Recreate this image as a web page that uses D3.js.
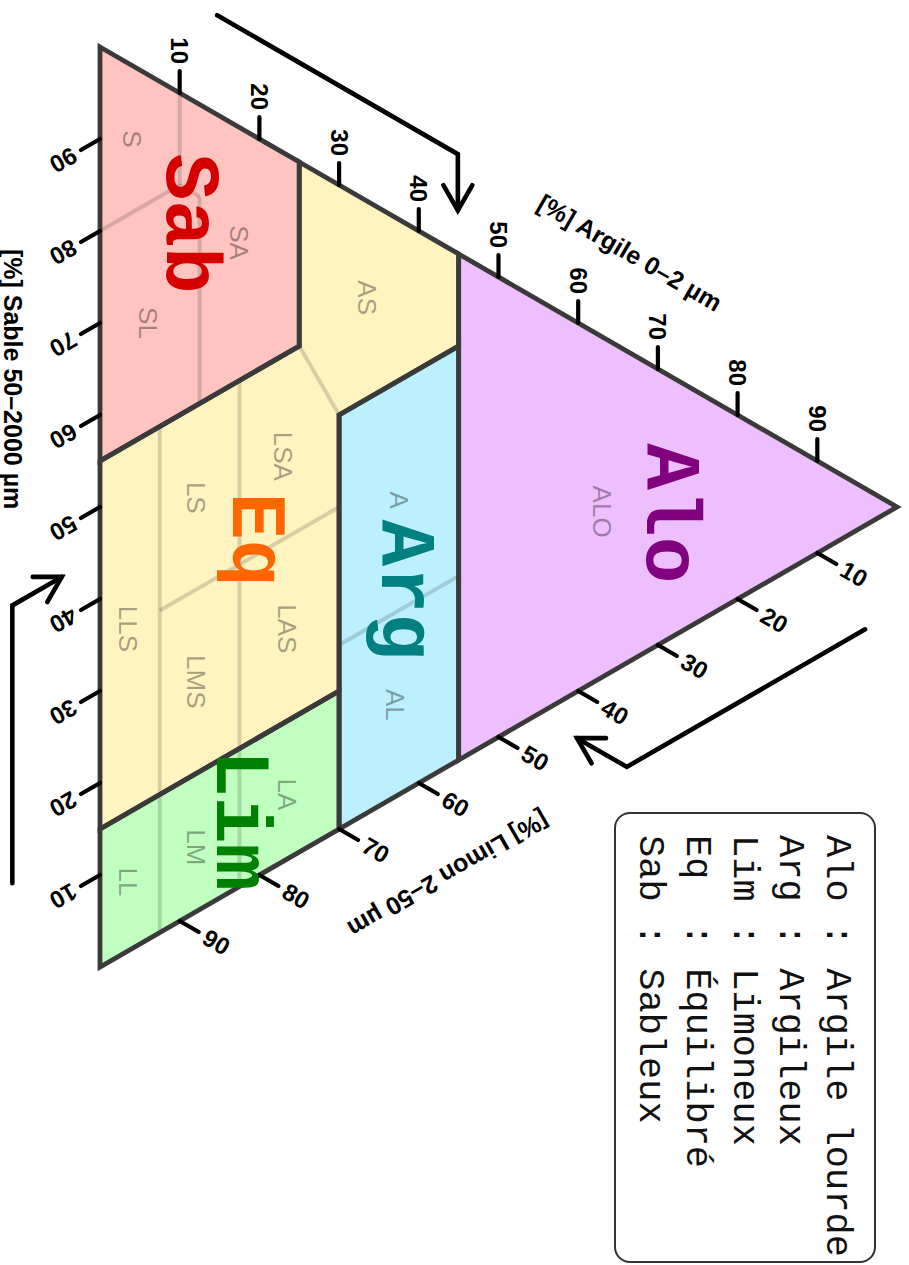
<!DOCTYPE html>
<html>
<head>
<meta charset="utf-8">
<script src="https://cdn.jsdelivr.net/npm/d3@7"></script>
<style>
  html, body { margin: 0; padding: 0; background: #ffffff; }
  svg { display: block; }
</style>
</head>
<body>
<svg id="chart" width="909" height="1265"></svg>
<script>
// ---- DATA (ternary points given as [argile %, sable %]; limon = 100 - argile - sable) ----
const regionNames = ["Sab", "Eq", "Arg", "Lim", "Alo"];
const sabPolygon = [[0, 100], [25, 75], [25, 55], [0, 55]];
const eqPolygon  = [[25, 75], [45, 55], [45, 45], [30, 45], [30, 15], [0, 15], [0, 55], [25, 55]];
const argPolygon = [[30, 45], [45, 45], [45, 0], [30, 0]];
const limPolygon = [[0, 15], [30, 15], [30, 0], [0, 0]];
const aloPolygon = [[45, 55], [100, 0], [45, 0]];
const regionLabelAnchors = [[8.4, 76.6], [16.7, 38.1], [35.4, 23.3], [14.7, 8.6], [68.6, 15]];

const subclassLines = [
  [[10, 90], [10, 80]],
  [[0, 80], [10, 80]],
  [[10, 80], [12.5, 77.5]],
  [[12.5, 77.5], [12.5, 55]],
  [[25, 55], [30, 45]],
  [[7.5, 55], [7.5, 0]],
  [[17.5, 55], [17.5, 0]],
  [[7.5, 35], [30, 35]],
  [[30, 20], [45, 20]]
];
const subclassNames = ["S", "SA", "SL", "AS", "LSA", "LS", "LLS", "LAS", "LMS", "A", "AL", "LA", "LM", "LL", "ALO"];
const subclassAnchors = [[4, 88], [17.5, 70], [6, 67], [33.5, 56], [23, 44], [12, 45], [3.5, 35], [23.5, 25],
                         [12, 25], [37.5, 32], [37, 10], [23.5, 7], [12, 7], [3.5, 7.5], [63, 18]];

const tickValues = [10, 20, 30, 40, 50, 60, 70, 80, 90];

const axisTitles = ["[%] Argile 0–2 µm", "[%] Limon 2–50 µm", "[%] Sable 50–2000 µm"];
const axisTitleAnchors = [[66.5, 44.4], [43.7, -11.8], [-10.9, 69.35]];

const argileArrow = [[14.7, 96.1], [44.9, 65.9], [44.9, 59.8]];
const limonArrow  = [[96, -11.3], [66.1, -11.3], [59.85, -5.05]];
const sableArrow  = [[-11, 14.6], [-11, 44.8], [-4.8, 44.8]];

const legendCodes = ["Alo", "Arg", "Lim", "Eq ", "Sab"];
const legendDescriptions = ["Argile lourde", "Argileux", "Limoneux", "Équilibré", "Sableux"];

// ---- STYLES ----
const regionFills  = ["#ffc4bf", "#fff3c0", "#bdf0ff", "#c0ffc0", "#eebfff"];
const regionColors = ["#d40000", "#ff6600", "#008080", "#008000", "#800080"];
const sansFont = "'Liberation Sans', Arial, Helvetica, sans-serif";
const monoFont = "'Liberation Mono', 'Courier New', monospace";

// ---- DRAWING ----
const svg = d3.select("#chart");
// the chart is drawn landscape and turned a quarter turn clockwise
const g = svg.append("g").attr("transform", "translate(909,0) rotate(90)");

const xScale = d3.scaleLinear().domain([0, 100]).range([47, 967]);  // limon + argile/2
const yScale = d3.scaleLinear().domain([0, 100]).range([809, 12]);  // argile
const proj = ([a, s]) => { const l = 100 - a - s; return [xScale(l + a / 2), yScale(a)]; };
const tline = d3.line().x(d => proj(d)[0]).y(d => proj(d)[1]);

const polygons = [sabPolygon, eqPolygon, argPolygon, limPolygon, aloPolygon];
const regions = regionNames.map((n, i) => ({
  name: n, poly: polygons[i], fill: regionFills[i], color: regionColors[i], anchor: regionLabelAnchors[i]
}));

// fills
g.append("g").selectAll("path").data(regions).join("path")
  .attr("d", d => tline(d.poly) + "Z")
  .attr("fill", d => d.fill)
  .attr("stroke", "none");

// sub-class boundaries
g.append("g").selectAll("path").data(subclassLines).join("path")
  .attr("d", d => tline(d))
  .attr("fill", "none")
  .attr("stroke", "#000")
  .attr("stroke-opacity", 0.15)
  .attr("stroke-width", 4);

// class outlines
g.append("g").selectAll("path").data(regions).join("path")
  .attr("d", d => tline(d.poly) + "Z")
  .attr("fill", "none")
  .attr("stroke", "#3a3a3a")
  .attr("stroke-width", 4.8)
  .attr("stroke-linejoin", "miter");

// ticks
const tickLen = 22, labelGap = 7;
const axes = [
  { pos: v => proj([v, 100 - v]), dir: [-1, 0], rot: 0, anchor: "end" },                 // argile
  { pos: v => proj([0, v]), dir: [0.5, Math.sqrt(3) / 2], rot: 60, anchor: "start" },     // sable
  { pos: v => proj([100 - v, 0]), dir: [0.5, -Math.sqrt(3) / 2], rot: -60, anchor: "start" } // limon
];
axes.forEach(ax => {
  const tg = g.append("g");
  tickValues.forEach(v => {
    const [x0, y0] = ax.pos(v);
    const x1 = x0 + ax.dir[0] * tickLen, y1 = y0 + ax.dir[1] * tickLen;
    tg.append("line").attr("x1", x0).attr("y1", y0).attr("x2", x1).attr("y2", y1)
      .attr("stroke", "#000").attr("stroke-width", 4.2).attr("stroke-linecap", "round");
    const lx = x1 + ax.dir[0] * labelGap, ly = y1 + ax.dir[1] * labelGap;
    tg.append("text").attr("x", lx).attr("y", ly)
      .attr("transform", `rotate(${ax.rot},${lx},${ly})`)
      .attr("text-anchor", ax.anchor)
      .attr("dominant-baseline", "central")
      .attr("font-family", sansFont).attr("font-weight", "bold").attr("font-size", 24)
      .attr("fill", "#000")
      .text(v);
  });
});

// sub-class labels
g.append("g").selectAll("text").data(subclassNames.map((n, i) => ({ n, p: proj(subclassAnchors[i]) })))
  .join("text")
  .attr("x", d => d.p[0]).attr("y", d => d.p[1])
  .attr("text-anchor", "middle").attr("dominant-baseline", "central")
  .attr("font-family", sansFont).attr("font-size", 26)
  .attr("fill", "#000").attr("fill-opacity", 0.36)
  .text(d => d.n);

// class labels
g.append("g").selectAll("text").data(regions).join("text")
  .attr("x", d => proj(d.anchor)[0]).attr("y", d => proj(d.anchor)[1])
  .attr("text-anchor", "middle")
  .attr("font-family", monoFont).attr("font-weight", "bold").attr("font-size", 78)
  .attr("fill", d => d.color)
  .text(d => d.name);

// axis titles
const titleRot = [-60, 60, 0];
axisTitles.forEach((t, i) => {
  const [x, y] = proj(axisTitleAnchors[i]);
  g.append("text").attr("x", x).attr("y", y)
    .attr("transform", `rotate(${titleRot[i]},${x},${y})`)
    .attr("text-anchor", "middle").attr("dominant-baseline", "central")
    .attr("font-family", sansFont).attr("font-weight", "bold").attr("font-size", 25)
    .attr("fill", "#000")
    .text(t);
});

// reading arrows
[argileArrow, limonArrow, sableArrow].forEach(pts => {
  const P = pts.map(proj);
  g.append("path").attr("d", d3.line()(P))
    .attr("fill", "none").attr("stroke", "#000").attr("stroke-width", 4.6)
    .attr("stroke-linejoin", "miter").attr("stroke-linecap", "round");
  const [x1, y1] = P[P.length - 2], [x2, y2] = P[P.length - 1];
  const ang = Math.atan2(y2 - y1, x2 - x1);
  const arms = [ang + Math.PI - Math.PI / 6, ang + Math.PI + Math.PI / 6]
    .map(t => [x2 + 29 * Math.cos(t), y2 + 29 * Math.sin(t)]);
  g.append("path").attr("d", d3.line()([arms[0], [x2, y2], arms[1]]))
    .attr("fill", "none").attr("stroke", "#000").attr("stroke-width", 4.6)
    .attr("stroke-linejoin", "miter").attr("stroke-linecap", "round");
});

// legend
const lg = g.append("g");
lg.append("rect").attr("x", 813).attr("y", 34).attr("width", 449).attr("height", 260)
  .attr("rx", 15).attr("ry", 15)
  .attr("fill", "#fff").attr("stroke", "#333").attr("stroke-width", 2);
lg.selectAll("text").data(legendCodes.map((c, i) => `${c} : ${legendDescriptions[i]}`))
  .join("text")
  .attr("x", 835).attr("y", (d, i) => 82 + i * 46.75)
  .attr("font-family", monoFont).attr("font-size", 37)
  .attr("fill", "#111")
  .style("white-space", "pre")
  .text(d => d);
</script>
</body>
</html>
